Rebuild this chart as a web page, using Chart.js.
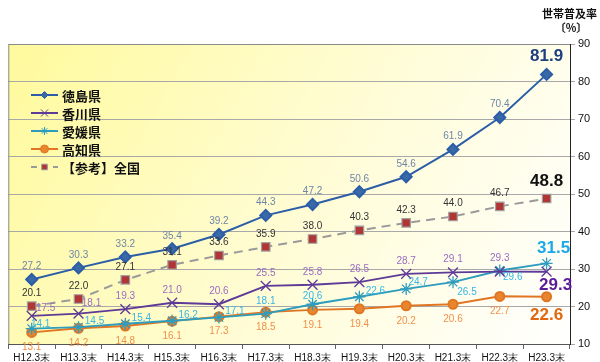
<!DOCTYPE html>
<html><head><meta charset="utf-8">
<script src="https://cdn.jsdelivr.net/npm/chart.js@4.4.0/dist/chart.umd.min.js"></script>
<style>html,body{margin:0;padding:0;background:#fff}#wrap{width:600px;height:362px;position:relative}</style>
</head><body><div id="wrap"><canvas id="c" width="600" height="362"></canvas></div>
<script>
const categories = ['H12.3末','H13.3末','H14.3末','H15.3末','H16.3末','H17.3末','H18.3末','H19.3末','H20.3末','H21.3末','H22.3末','H23.3末'];
const tokushima = [27.2,30.3,33.2,35.4,39.2,44.3,47.2,50.6,54.6,61.9,70.4,81.9];
const kagawa    = [17.5,18.1,19.3,21.0,20.6,25.5,25.8,26.5,28.7,29.1,29.3,29.3];
const ehime     = [14.1,14.5,15.4,16.2,17.1,18.1,20.6,22.6,24.7,26.5,29.6,31.5];
const kochi     = [13.1,14.2,14.8,16.1,17.3,18.5,19.1,19.4,20.2,20.6,22.7,22.6];
const zenkoku   = [20.1,22.0,27.1,31.1,33.6,35.9,38.0,40.3,42.3,44.0,46.7,48.8];
const seriesNames = ['徳島県','香川県','愛媛県','高知県','【参考】全国'];
const yTicks = [10,20,30,40,50,60,70,80,90];

const labelFont = '10px "Liberation Sans", Arial, sans-serif';
const boldFont = 'bold 17px "Liberation Sans", Arial, sans-serif';

const labelCfg = [
  {color:'#6f86a6', bold:'#1d3f80', dx:0, dy:-13, last:{dx:0,dy:-18}, over:{}},
  {color:'#9a6cc2', bold:'#5b1c9c', dx:0, dy:-13, last:{dx:9,dy:14}, over:{0:{dx:14,dy:-8},1:{dx:13,dy:-10}}},
  {color:'#35b6e6', bold:'#1aa9e8', dx:16, dy:-6, last:{dx:7,dy:-15}, over:{0:{dx:9,dy:-4},5:{dx:0,dy:-12},6:{dx:0,dy:-8},8:{dx:12,dy:-7},9:{dx:14,dy:10},10:{dx:13,dy:7}}},
  {color:'#f0904a', bold:'#e2680f', dx:0, dy:15, last:{dx:0,dy:19}, over:{}},
  {color:'#333333', bold:'#111111', dx:0, dy:-13, last:{dx:0,dy:-17}, over:{}}
];

const bgPlugin = {
  id:'bg',
  beforeDraw(chart){
    const {ctx, chartArea:a} = chart;
    ctx.save();
    const g = ctx.createLinearGradient(a.left, a.top, a.right, a.bottom);
    g.addColorStop(0,'#fffa9c');
    g.addColorStop(0.5,'#fffcd2');
    g.addColorStop(1,'#ffffff');
    ctx.fillStyle = g;
    ctx.fillRect(a.left, a.top, a.right-a.left, a.bottom-a.top);
    ctx.restore();
  },
  afterDraw(chart){
    const {ctx, chartArea:a} = chart;
    ctx.save();
    ctx.strokeStyle = '#8a8a8a';
    ctx.lineWidth = 1;
    ctx.beginPath();
    ctx.moveTo(a.left+0.5, a.bottom); ctx.lineTo(a.left+0.5, a.top+0.5); ctx.lineTo(a.right, a.top+0.5);
    ctx.stroke();
    ctx.fillStyle = '#111';
    ctx.font = 'bold 11px "Noto Sans CJK JP", sans-serif';
    ctx.textAlign = 'right'; ctx.textBaseline = 'middle';
    ctx.fillText('世帯普及率', 597, 14);
    ctx.textAlign = 'center';
    ctx.fillText('〔%〕', 571, 28);
    ctx.textAlign = 'left';
    chart.data.datasets.forEach((ds,i)=>{
      const y = 95 + i*18;
      ctx.save();
      ctx.strokeStyle = ds.borderColor;
      ctx.lineWidth = 2;
      if (ds.borderDash) ctx.setLineDash([6,5]);
      ctx.beginPath(); ctx.moveTo(31,y); ctx.lineTo(58,y); ctx.stroke();
      ctx.restore();
      ctx.save();
      ctx.fillStyle = ds.pointBackgroundColor || ds.pointBorderColor;
      ctx.strokeStyle = ds.pointBorderColor;
      ctx.lineWidth = 1;
      Chart.helpers.drawPoint(ctx, {pointStyle: ds.pointStyle, radius: ds.legendRadius, borderWidth: 1}, 44.5, y);
      ctx.restore();
      ctx.fillStyle = '#111';
      ctx.font = 'bold 13px "Noto Sans CJK JP", sans-serif';
      ctx.fillText(ds.label, 62, y+1);
    });
    ctx.restore();
  },
  afterDatasetsDraw(chart){
    const {ctx} = chart;
    ctx.save();
    ctx.textAlign = 'center'; ctx.textBaseline = 'middle';
    chart.data.datasets.forEach((ds,di)=>{
      const cfg = labelCfg[di];
      const meta = chart.getDatasetMeta(di);
      meta.data.forEach((pt,i)=>{
        const v = ds.data[i];
        const isLast = i === ds.data.length-1;
        const o = isLast ? cfg.last : (cfg.over[i] || {dx:cfg.dx, dy:cfg.dy});
        ctx.font = isLast ? boldFont : labelFont;
        ctx.fillStyle = isLast ? cfg.bold : cfg.color;
        ctx.fillText(v.toFixed(1), pt.x + o.dx, pt.y + o.dy);
      });
    });
    ctx.restore();
  }
};

new Chart(document.getElementById('c'), {
  type:'line',
  data:{
    labels: categories,
    datasets:[
      {label:seriesNames[0], data:tokushima, borderColor:'#2c5ea8', backgroundColor:'#3466a8', pointStyle:'rectRot', pointRadius:5.5, pointBackgroundColor:'#3a69a8', pointBorderColor:'#2c5ea8', borderWidth:2, legendRadius:3.5},
      {label:seriesNames[1], data:kagawa, borderColor:'#5e3a98', backgroundColor:'#5e3a98', pointStyle:'crossRot', pointRadius:7, pointBorderColor:'#5e3a98', pointBorderWidth:1.3, borderWidth:2, legendRadius:5},
      {label:seriesNames[2], data:ehime, borderColor:'#2e9cbc', backgroundColor:'#2e9cbc', pointStyle:'star', pointRadius:6, pointBorderColor:'#2e9cbc', pointBorderWidth:1.3, borderWidth:2, legendRadius:4},
      {label:seriesNames[3], data:kochi, borderColor:'#e07624', backgroundColor:'#e8862e', pointStyle:'circle', pointRadius:4.5, pointBackgroundColor:'#e8862e', pointBorderColor:'#e07624', borderWidth:2, legendRadius:4},
      {label:seriesNames[4], data:zenkoku, borderColor:'#9a9a9a', backgroundColor:'#b03535', borderDash:[9,6], pointStyle:'rect', pointRadius:6, pointBackgroundColor:'#b03535', pointBorderColor:'#a0a0a0', pointBorderWidth:1.2, borderWidth:2, legendRadius:4}
    ]
  },
  options:{
    responsive:false, animation:false,
    layout:{padding:{left:1, top:44, right:0, bottom:0}},
    plugins:{legend:{display:false}, tooltip:{enabled:false}},
    elements:{line:{tension:0}},
    scales:{
      x:{
        offset:true,
        grid:{display:true, offset:true, drawOnChartArea:false, drawTicks:true, tickLength:5, color:'#666'},
        border:{color:'#555', width:1},
        ticks:{color:'#111', font:{family:'"Liberation Sans", Arial, sans-serif', size:10}, padding:3, maxRotation:0, autoSkip:false},
        afterFit(s){ s.height = 18; }
      },
      y:{
        position:'right', min:10, max:90,
        afterBuildTicks(s){ s.ticks = yTicks.map(v=>({value:v})); },
        grid:{color:'#a8a8a8', tickLength:5, drawTicks:true},
        border:{color:'#222', width:1},
        ticks:{color:'#111', font:{family:'"Liberation Sans", Arial, sans-serif', size:11}, padding:3},
        afterFit(s){ s.width = 30; }
      }
    }
  },
  plugins:[bgPlugin]
});
</script></body></html>
